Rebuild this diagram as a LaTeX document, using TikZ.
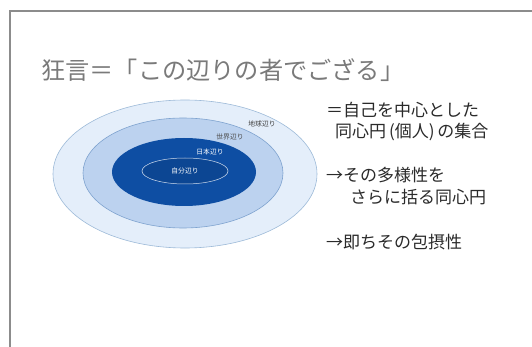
\documentclass[tikz,border=0pt]{standalone}
\usepackage{fontspec}
\newfontfamily\jp{Noto Sans CJK JP}
\definecolor{frame}{HTML}{8C8C8C}
\definecolor{titlegray}{HTML}{7A7A7A}
\definecolor{ring1}{HTML}{E4EEFA}
\definecolor{ring1e}{HTML}{9DBAD8}
\definecolor{ring2}{HTML}{BCD2EF}
\definecolor{ring2e}{HTML}{7FA3CF}
\definecolor{ring3}{HTML}{0E4EA3}
\definecolor{ring4}{HTML}{0C4693}
\definecolor{bodytext}{HTML}{2A2A2A}
\tikzset{
  ring/.style={line width=0.6pt},
  smalllab/.style={font=\jp\fontsize{6.8}{7}\selectfont, inner sep=0pt},
  bodyline/.style={font=\jp\fontsize{17}{19}\selectfont, text=bodytext, anchor=west, inner sep=0pt},
}
\begin{document}
\begin{tikzpicture}[x=1pt,y=-1pt]
\useasboundingbox (0,0) rectangle (532,347);
\fill[white] (0,0) rectangle (532,347);
% frame
\draw[frame, line width=1.6pt] (10,347) -- (10,11) -- (532,11);
% title
\node[anchor=west, inner sep=0pt, text=titlegray, font=\jp\fontsize{24.2}{26}\selectfont] (title) at (41,70) {狂言＝「この辺りの者でござる」};
% rings
\draw[ring, draw=ring1e, fill=ring1] (185,174) ellipse [x radius=132, y radius=74];
\draw[ring, draw=ring2e, fill=ring2] (183,173) ellipse [x radius=100, y radius=55];
\fill[ring3] (184,172) ellipse [x radius=72, y radius=34];
\draw[line width=0.5pt, draw=white!80!ring3, fill=ring4] (185,171) ellipse [x radius=43, y radius=13];
% ring labels
\node[smalllab, text=black!75] (l1) at (262,124) {地球辺り};
\node[smalllab, text=black!70] (l2) at (230,137) {世界辺り};
\node[smalllab, text=white] (l3) at (210,152) {日本辺り};
\node[smalllab, text=white] (l4) at (185,171) {自分辺り};
% right text
\node[bodyline] (t1) at (326,110) {＝自己を中心とした};
\node[bodyline] (t2) at (335,132) {同心円\,(個人)\,の集合};
\node[bodyline] (t3) at (326,175) {→その多様性を};
\node[bodyline] (t4) at (350,197) {さらに括る同心円};
\node[bodyline] (t5) at (326,242) {→即ちその包摂性};
\end{tikzpicture}
\end{document}
